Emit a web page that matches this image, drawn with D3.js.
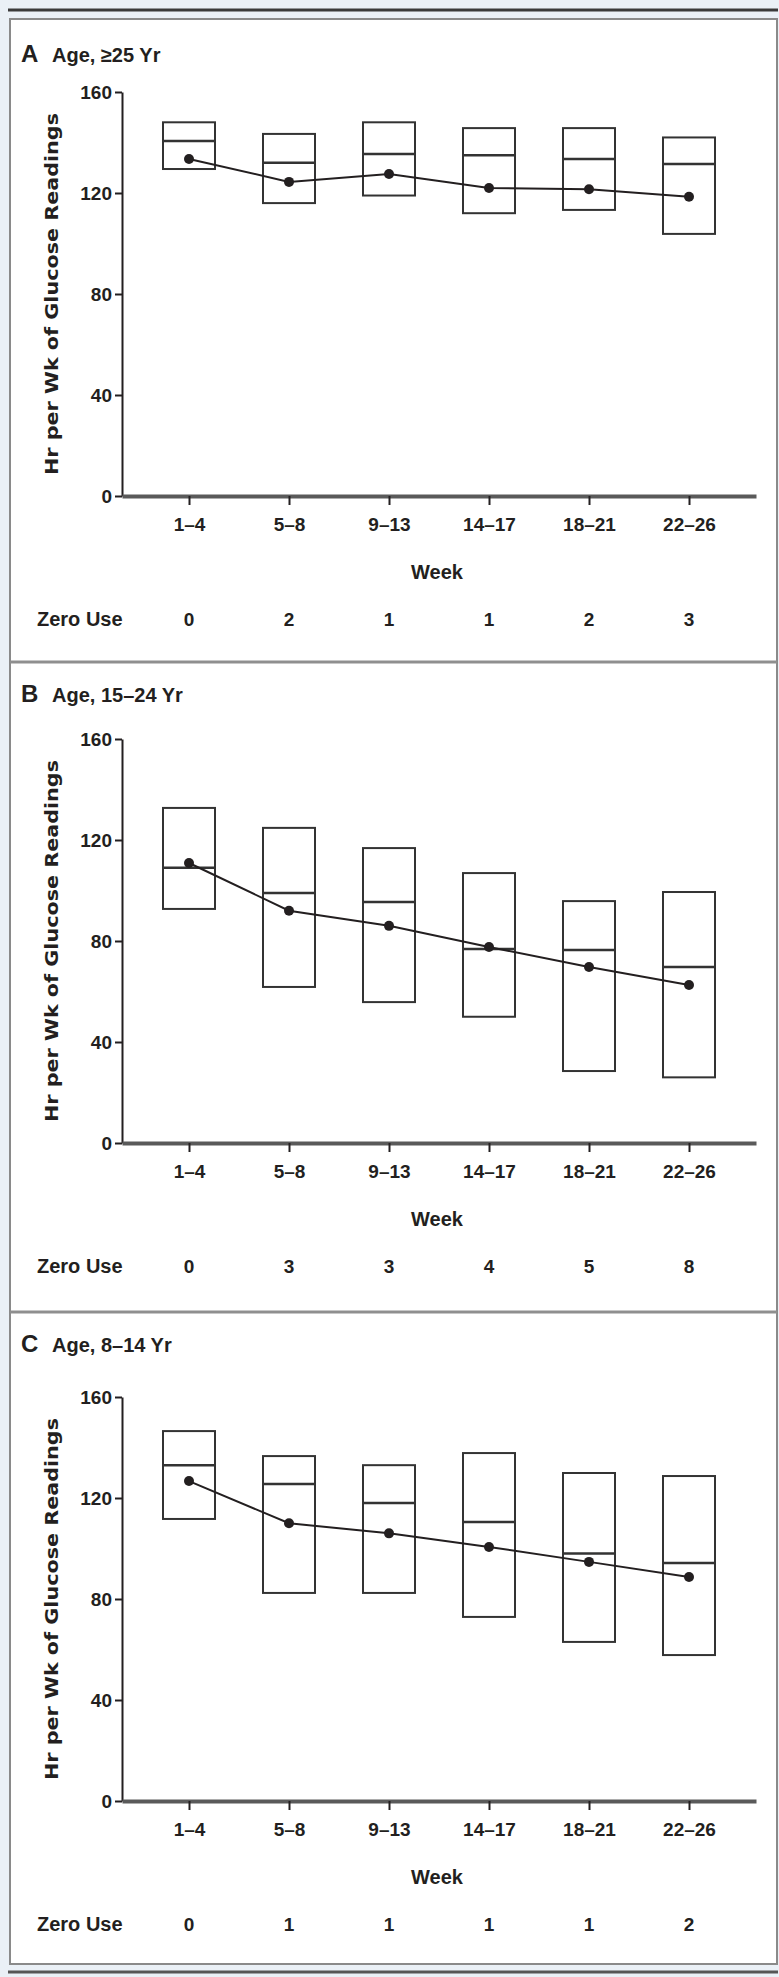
<!DOCTYPE html>
<html>
<head>
<meta charset="utf-8">
<script src="https://cdn.jsdelivr.net/npm/d3@7"></script>
<style>
  body { margin: 0; background: #eaf0f6; }
  svg { display: block; }
  .cond { font-family: 'Liberation Sans Narrow', 'Liberation Sans', Arial, sans-serif; font-weight: bold; }
</style>
</head>
<body>
<script>
// data
var weeks = ["1–4", "5–8", "9–13", "14–17", "18–21", "22–26"];
var letters = ["A", "B", "C"];
var titles = ["Age, ≥25 Yr", "Age, 15–24 Yr", "Age, 8–14 Yr"];
var yTicks = [0, 40, 80, 120, 160];

var q3A = [148, 143.4, 148, 145.7, 145.7, 142];
var medA = [140.6, 132, 135.4, 135, 133.5, 131.5];
var q1A = [129.5, 116, 119, 112, 113.3, 103.8];
var meanA = [133.5, 124.4, 127.5, 122, 121.5, 118.5];
var zeroA = [0, 2, 1, 1, 2, 3];

var q3B = [132.7, 124.8, 116.8, 106.9, 95.8, 99.4];
var medB = [109, 99, 95.4, 76.8, 76.4, 69.7];
var q1B = [92.7, 61.8, 55.8, 50, 28.5, 26];
var meanB = [110.9, 92, 86, 77.6, 69.7, 62.6];
var zeroB = [0, 3, 3, 4, 5, 8];

var q3C = [146.5, 136.6, 133, 137.8, 129.9, 128.7];
var medC = [133, 125.5, 118, 110.5, 98, 94.3];
var q1C = [111.7, 82.4, 82.4, 72.9, 63, 57.8];
var meanC = [126.7, 110, 106, 100.6, 94.7, 88.7];
var zeroC = [0, 1, 1, 1, 1, 2];

var q3s = [q3A, q3B, q3C];
var meds = [medA, medB, medC];
var q1s = [q1A, q1B, q1C];
var means = [meanA, meanB, meanC];
var zeros = [zeroA, zeroB, zeroC];

// layout
var width = 779;
var height = 1977;
var titleY = [62, 702, 1352];
var plotTop = [92, 739, 1397];
var plotBottom = [496, 1143, 1801];

var ink = "#231f20";

var svg = d3.select("body")
  .append("svg")
  .attr("width", width)
  .attr("height", height);

svg.append("rect")
  .attr("x", 0).attr("y", 0)
  .attr("width", width).attr("height", height)
  .attr("fill", "#eaf0f6");

// frame
svg.append("line")
  .attr("x1", 8).attr("x2", 778)
  .attr("y1", 10).attr("y2", 10)
  .attr("stroke", "#3a3a3a").attr("stroke-width", 3);
svg.append("line")
  .attr("x1", 8).attr("x2", 778)
  .attr("y1", 1972).attr("y2", 1972)
  .attr("stroke", "#555").attr("stroke-width", 3);
svg.append("rect")
  .attr("x", 10).attr("y", 19)
  .attr("width", 767).attr("height", 1945)
  .attr("fill", "#fff")
  .attr("stroke", "#8a8a8a")
  .attr("stroke-width", 2);
svg.selectAll("line.sep")
  .data([662, 1312])
  .enter()
  .append("line")
  .classed("sep", true)
  .attr("x1", 10).attr("x2", 777)
  .attr("y1", function (d) { return d; })
  .attr("y2", function (d) { return d; })
  .attr("stroke", "#8f8f8f")
  .attr("stroke-width", 3);

var x = d3.scalePoint()
  .domain(weeks)
  .range([122, 756])
  .padding(0.67);

letters.forEach(function (letter, p) {
  var g = svg.append("g");
  var y = d3.scaleLinear()
    .domain([0, 160])
    .range([plotBottom[p], plotTop[p]]);

  g.append("text")
    .classed("cond", true)
    .attr("x", 21).attr("y", titleY[p])
    .attr("font-size", 24)
    .attr("fill", ink)
    .text(letter);
  g.append("text")
    .classed("cond", true)
    .attr("x", 52).attr("y", titleY[p])
    .attr("font-size", 20)
    .attr("fill", ink)
    .text(titles[p]);

  // y axis
  var yAxis = g.append("g")
    .attr("transform", "translate(122,0)")
    .call(d3.axisLeft(y).tickValues(yTicks).tickSize(7).tickSizeOuter(0).tickPadding(3));
  yAxis.select(".domain").attr("stroke", ink).attr("stroke-width", 2);
  yAxis.selectAll(".tick line").attr("stroke", ink).attr("stroke-width", 2);
  yAxis.selectAll(".tick text")
    .classed("cond", true)
    .attr("font-size", 19)
    .attr("fill", ink);

  // x axis
  var xAxis = g.append("g")
    .attr("transform", "translate(0," + plotBottom[p] + ")")
    .call(d3.axisBottom(x).tickSize(9).tickSizeOuter(0).tickPadding(13));
  xAxis.select(".domain").attr("stroke", "#5a5a5a").attr("stroke-width", 4);
  xAxis.selectAll(".tick line").attr("stroke", ink).attr("stroke-width", 2);
  xAxis.selectAll(".tick text")
    .classed("cond", true)
    .attr("font-size", 19)
    .attr("fill", ink);

  g.append("text")
    .classed("cond", true)
    .attr("x", 437).attr("y", plotBottom[p] + 83)
    .attr("text-anchor", "middle")
    .attr("font-size", 20)
    .attr("fill", ink)
    .text("Week");

  g.append("text")
    .attr("transform", "translate(58," + ((plotTop[p] + plotBottom[p]) / 2) + ") rotate(-90)")
    .attr("text-anchor", "middle")
    .attr("font-family", "'DejaVu Sans', sans-serif")
    .attr("font-weight", "bold")
    .attr("font-size", 17)
    .attr("textLength", 362)
    .attr("lengthAdjust", "spacingAndGlyphs")
    .attr("fill", ink)
    .text("Hr per Wk of Glucose Readings");

  // zero use row
  g.append("text")
    .classed("cond", true)
    .attr("x", 37).attr("y", plotBottom[p] + 130)
    .attr("font-size", 20)
    .attr("fill", ink)
    .text("Zero Use");
  g.selectAll("text.zero")
    .data(zeros[p])
    .enter()
    .append("text")
    .classed("zero cond", true)
    .attr("x", function (d, i) { return x(weeks[i]); })
    .attr("y", plotBottom[p] + 130)
    .attr("text-anchor", "middle")
    .attr("font-size", 19)
    .attr("fill", ink)
    .text(function (d) { return d; });

  // boxes
  var boxW = 52;
  g.selectAll("rect.box")
    .data(weeks)
    .enter()
    .append("rect")
    .classed("box", true)
    .attr("x", function (d) { return x(d) - boxW / 2; })
    .attr("y", function (d, i) { return y(q3s[p][i]); })
    .attr("width", boxW)
    .attr("height", function (d, i) { return y(q1s[p][i]) - y(q3s[p][i]); })
    .attr("fill", "none")
    .attr("stroke", "#333")
    .attr("stroke-width", 2);
  g.selectAll("line.median")
    .data(weeks)
    .enter()
    .append("line")
    .classed("median", true)
    .attr("x1", function (d) { return x(d) - boxW / 2; })
    .attr("x2", function (d) { return x(d) + boxW / 2; })
    .attr("y1", function (d, i) { return y(meds[p][i]); })
    .attr("y2", function (d, i) { return y(meds[p][i]); })
    .attr("stroke", "#333")
    .attr("stroke-width", 2.5);

  // means
  var line = d3.line()
    .x(function (d, i) { return x(weeks[i]); })
    .y(function (d) { return y(d); });
  g.append("path")
    .datum(means[p])
    .attr("d", line)
    .attr("fill", "none")
    .attr("stroke", ink)
    .attr("stroke-width", 2);
  g.selectAll("circle.mean")
    .data(means[p])
    .enter()
    .append("circle")
    .classed("mean", true)
    .attr("cx", function (d, i) { return x(weeks[i]); })
    .attr("cy", function (d) { return y(d); })
    .attr("r", 5)
    .attr("fill", ink);
});
</script>
</body>
</html>
